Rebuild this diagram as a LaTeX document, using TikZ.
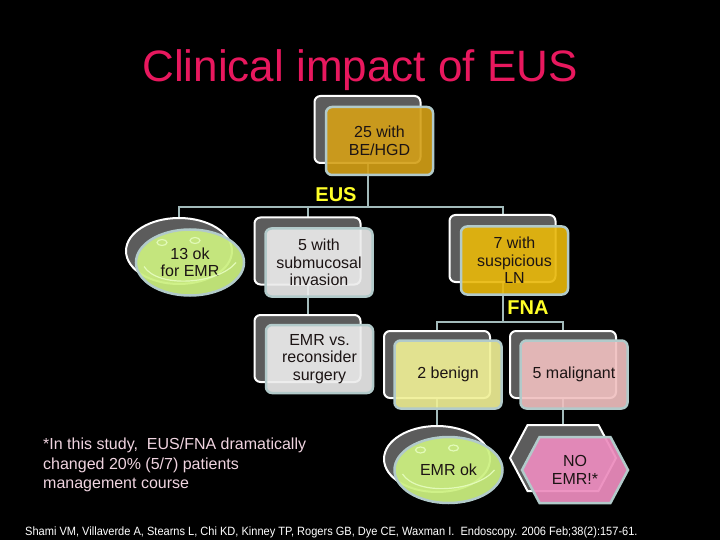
\documentclass[tikz,border=0pt]{standalone}
\usepackage{fontspec}
\setmainfont{Liberation Sans}
\usetikzlibrary{shapes.geometric,shapes.symbols}
\pgfdeclarelayer{backdrop}
\pgfdeclarelayer{bg}
\pgfsetlayers{backdrop,bg,main}
\definecolor{shadowgray}{RGB}{92,92,92}
\definecolor{edgeblue}{RGB}{178,202,202}
\definecolor{connc}{RGB}{162,186,186}
\definecolor{goldA}{RGB}{212,160,23}
\definecolor{goldB}{RGB}{232,184,10}
\definecolor{ellgreen}{RGB}{204,240,128}
\definecolor{smilec}{RGB}{226,250,184}
\definecolor{boxgray}{RGB}{236,236,236}
\definecolor{lightyel}{RGB}{240,240,150}
\definecolor{pinkA}{RGB}{240,192,192}
\definecolor{pinkB}{RGB}{236,140,190}
\definecolor{nodetext}{RGB}{28,20,20}
\definecolor{titlepink}{RGB}{232,24,94}
\definecolor{notepink}{RGB}{240,212,224}
\definecolor{lblyellow}{RGB}{255,255,40}
\begin{document}
\begin{tikzpicture}[x=1pt,y=-1pt,
  sbox/.style={draw=white, line width=2pt, fill=shadowgray, rounded corners=6pt,
    minimum width=106pt, minimum height=67pt, inner sep=0pt},
  fbox/.style={draw=edgeblue, line width=2.5pt, fill opacity=0.91, text opacity=1,
    rounded corners=6pt, minimum width=107pt, minimum height=68pt, inner sep=0pt,
    align=center, text=nodetext, font=\fontsize{16}{17.5}\selectfont},
  sell/.style={ellipse, draw=white, line width=2pt, fill=shadowgray,
    minimum width=106pt, minimum height=66pt, inner sep=0pt},
  fell/.style={ellipse, draw=edgeblue, line width=2.5pt, fill=ellgreen,
    fill opacity=0.93, text opacity=1, minimum width=108pt, minimum height=66pt,
    inner sep=0pt, align=center, text=nodetext, font=\fontsize{16}{17.5}\selectfont},
  shex/.style={signal, signal to=west and east, signal pointer angle=124,
    draw=white, line width=2pt, fill=shadowgray, minimum width=106pt,
    minimum height=66pt, inner sep=0pt},
  fhex/.style={signal, signal to=west and east, signal pointer angle=124,
    draw=edgeblue, line width=2.5pt, fill=pinkB, fill opacity=0.93, text opacity=1,
    minimum width=106pt, minimum height=66pt, inner sep=0pt, align=center,
    text=nodetext, font=\fontsize{16}{17.5}\selectfont},
  conn/.style={draw=connc, line width=2pt},
  smile/.style={draw=smilec, line width=1.2pt},
  lbl/.style={font=\bfseries\fontsize{20}{20}\selectfont, text=lblyellow, inner sep=0pt}
]
\useasboundingbox (0,0) rectangle (720,540);
\begin{pgfonlayer}{backdrop}
\fill[black] (0,0) rectangle (720,540);
\end{pgfonlayer}

\node[font=\fontsize{44}{44}\selectfont, text=titlepink, anchor=base, inner sep=0pt] (title) at (360,82) {Clinical impact of EUS};

% level 1
\node[sbox] (tops) at (367.5,129.5) {};
\node[fbox, fill=goldA] (topf) at (379.5,141) {25 with\\BE/HGD};

% level 2
\node[sell] (oks) at (179,251) {};
\node[fell] (okf) at (190,262.5) {13 ok\\for EMR};
\node[sbox] (subs) at (307.5,251) {};
\node[fbox, fill=boxgray] (subf) at (319,262.5) {5 with\\submucosal\\invasion};
\node[sbox] (lns) at (502.5,248.5) {};
\node[fbox, fill=goldB] (lnf) at (514.5,260.5) {7 with\\suspicious\\LN};

% level 3
\node[sbox] (emrs) at (307.5,348.5) {};
\node[fbox, fill=boxgray] (emrf) at (319.5,359) {EMR vs.\\reconsider\\surgery};
\node[sbox] (bens) at (437,364.5) {};
\node[fbox, fill=lightyel] (benf) at (448,374.5) {2 benign};
\node[sbox] (mals) at (563,364.5) {};
\node[fbox, fill=pinkA] (malf) at (574,374.5) {5 malignant};

% level 4
\node[sell] (oks2) at (437,459) {};
\node[fell] (okf2) at (448.5,470) {EMR ok};
\node[shex] (nos) at (563,458) {};
\node[fhex] (nof) at (575,470) {NO\\EMR!*};

% smiley decorations
\foreach \e in {okf,okf2}{
  \draw[smile] ([shift={(-28,-20)}]\e.center) ellipse (5 and 3);
  \draw[smile] ([shift={(5,-22)}]\e.center) ellipse (5 and 3);
  \draw[smile] ([shift={(-46,4)}]\e.center) .. controls +(14,22) and +(-18,22) .. ([shift={(46,0)}]\e.center);
}

% labels
\node[lbl] (eus) at (336,195) {EUS};
\node[lbl] (fna) at (528,308) {FNA};

% connectors
\path (tops.center) ++(0,77.5) coordinate (bus1);
\path (lns.center) ++(0,73.5) coordinate (bus2);
\begin{pgfonlayer}{bg}
\draw[conn] (tops.center) -- (bus1) -| (oks.center);
\draw[conn] (bus1) -| (subs.center);
\draw[conn] (bus1) -| (lns.center);
\draw[conn] (subs.center) -- (emrs.center);
\draw[conn] (lns.center) -- (bus2) -| (bens.center);
\draw[conn] (bus2) -| (mals.center);
\draw[conn] (bens.center) -- (oks2.center);
\draw[conn] (mals.center) -- (nos.center);
\end{pgfonlayer}

% notes
\node[anchor=north west, align=left, inner sep=0pt, text=notepink,
  font=\fontsize{16}{19.5}\selectfont] (note) at (43,438)
  {*In this study,\ \ EUS/FNA dramatically\\changed 20\% (5/7) patients\\management course};
\node[anchor=base west, inner sep=0pt, text=white, font=\fontsize{12}{12}\selectfont] (cite) at (25,535)
  {\scalebox{0.92}[1]{Shami VM, Villaverde A, Stearns L, Chi KD, Kinney TP, Rogers GB, Dye CE, Waxman I.\ \ Endoscopy. 2006 Feb;38(2):157-61.}};
\end{tikzpicture}
\end{document}
